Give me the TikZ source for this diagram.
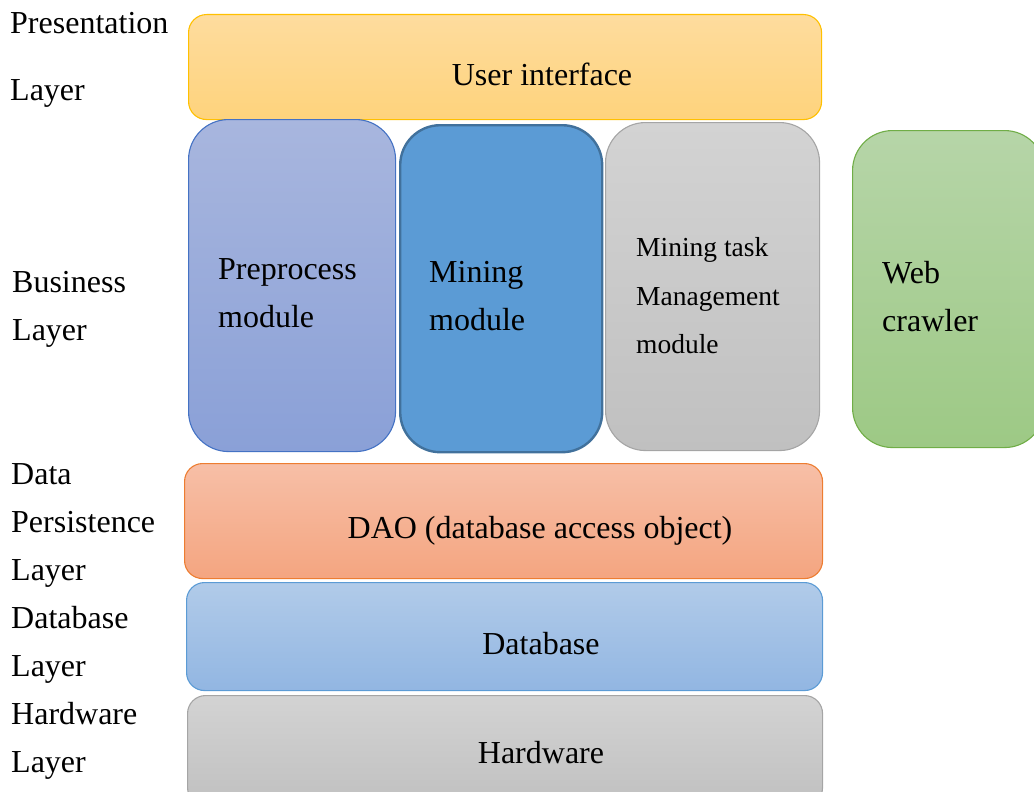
\documentclass[tikz,border=0pt]{standalone}
\usepackage{fontspec}
\setmainfont{Liberation Serif}
\begin{document}
\begin{tikzpicture}[x=1pt,y=-1pt,
  blk/.style={rectangle, anchor=north west, inner sep=0pt, line width=1.1pt},
  lbl/.style={anchor=west, inner sep=0pt, align=left, font=\fontsize{32}{48}\selectfont},
  ctr/.style={anchor=center, inner sep=0pt, font=\fontsize{32}{38}\selectfont}]
\useasboundingbox (0,0) rectangle (1034,792);
\clip (0,0) rectangle (1034,792);
\definecolor{uiTop}{HTML}{FEDC9E}\definecolor{uiBot}{HTML}{FED37C}\definecolor{uiLn}{HTML}{FFC000}
\definecolor{ppTop}{HTML}{A8B6DE}\definecolor{ppBot}{HTML}{8AA0D7}\definecolor{ppLn}{HTML}{4472C4}
\definecolor{mmFill}{HTML}{5B9BD5}\definecolor{mmLn}{HTML}{41719C}
\definecolor{gTop}{HTML}{D3D3D3}\definecolor{gBot}{HTML}{C0C0C0}\definecolor{gLn}{HTML}{A5A5A5}
\definecolor{wcTop}{HTML}{B6D5A8}\definecolor{wcBot}{HTML}{9DC985}\definecolor{wcLn}{HTML}{70AD47}
\definecolor{daoTop}{HTML}{F7BFA7}\definecolor{daoBot}{HTML}{F4A580}\definecolor{daoLn}{HTML}{ED7D31}
\definecolor{dbTop}{HTML}{B1CBE9}\definecolor{dbBot}{HTML}{92B6E2}\definecolor{dbLn}{HTML}{5B9BD5}

% boxes
\node[blk, draw=uiLn, top color=uiTop, bottom color=uiBot, rounded corners=18pt,
  minimum width=633pt, minimum height=105pt] (ui) at (188,14) {};
\node[blk, draw=ppLn, top color=ppTop, bottom color=ppBot, rounded corners=40pt,
  minimum width=207pt, minimum height=332pt] (pp) at (188,119) {};
\node[blk, draw=mmLn, fill=mmFill, line width=2.4pt, rounded corners=40pt,
  minimum width=202pt, minimum height=327pt] (mm) at (399,124) {};
\node[blk, draw=gLn, top color=gTop, bottom color=gBot, rounded corners=40pt,
  minimum width=214pt, minimum height=328pt] (mt) at (605,122) {};
\node[blk, draw=wcLn, top color=wcTop, bottom color=wcBot, rounded corners=40pt,
  minimum width=192pt, minimum height=317pt] (wc) at (852,130) {};
\node[blk, draw=daoLn, top color=daoTop, bottom color=daoBot, rounded corners=18pt,
  minimum width=638pt, minimum height=115pt] (dao) at (184,463) {};
\node[blk, draw=dbLn, top color=dbTop, bottom color=dbBot, rounded corners=18pt,
  minimum width=636pt, minimum height=108pt] (db) at (186,582) {};
\node[blk, draw=gLn, top color=gTop, bottom color=gBot, rounded corners=18pt,
  minimum width=635pt, minimum height=110pt] (hw) at (187,695) {};

% box texts
\node[ctr] (uit) at (542,74) {User interface};
\node[lbl] (ppt) at (218,293) {Preprocess\\module};
\node[lbl] (mmt) at (429,296) {Mining\\module};
\node[lbl, font=\fontsize{27.5}{48.5}\selectfont] (mtt) at (636,296) {Mining task\\Management\\module};
\node[lbl] (wct) at (882,297) {Web\\crawler};
\node[ctr] (daot) at (540,531) {DAO (database access object)};
\node[ctr] (dbt) at (541,644) {Database};
\node[ctr] (hwt) at (541,753) {Hardware};

% layer labels
\node[lbl, font=\fontsize{32}{67}\selectfont] (l1) at (10,59.5) {Presentation\\Layer};
\node[lbl] (l2) at (12,309) {Business\\Layer};
\node[lbl] (l3) at (11,525) {Data\\Persistence\\Layer};
\node[lbl] (l4) at (11,645) {Database\\Layer};
\node[lbl] (l5) at (11,741) {Hardware\\Layer};
\end{tikzpicture}
\end{document}
